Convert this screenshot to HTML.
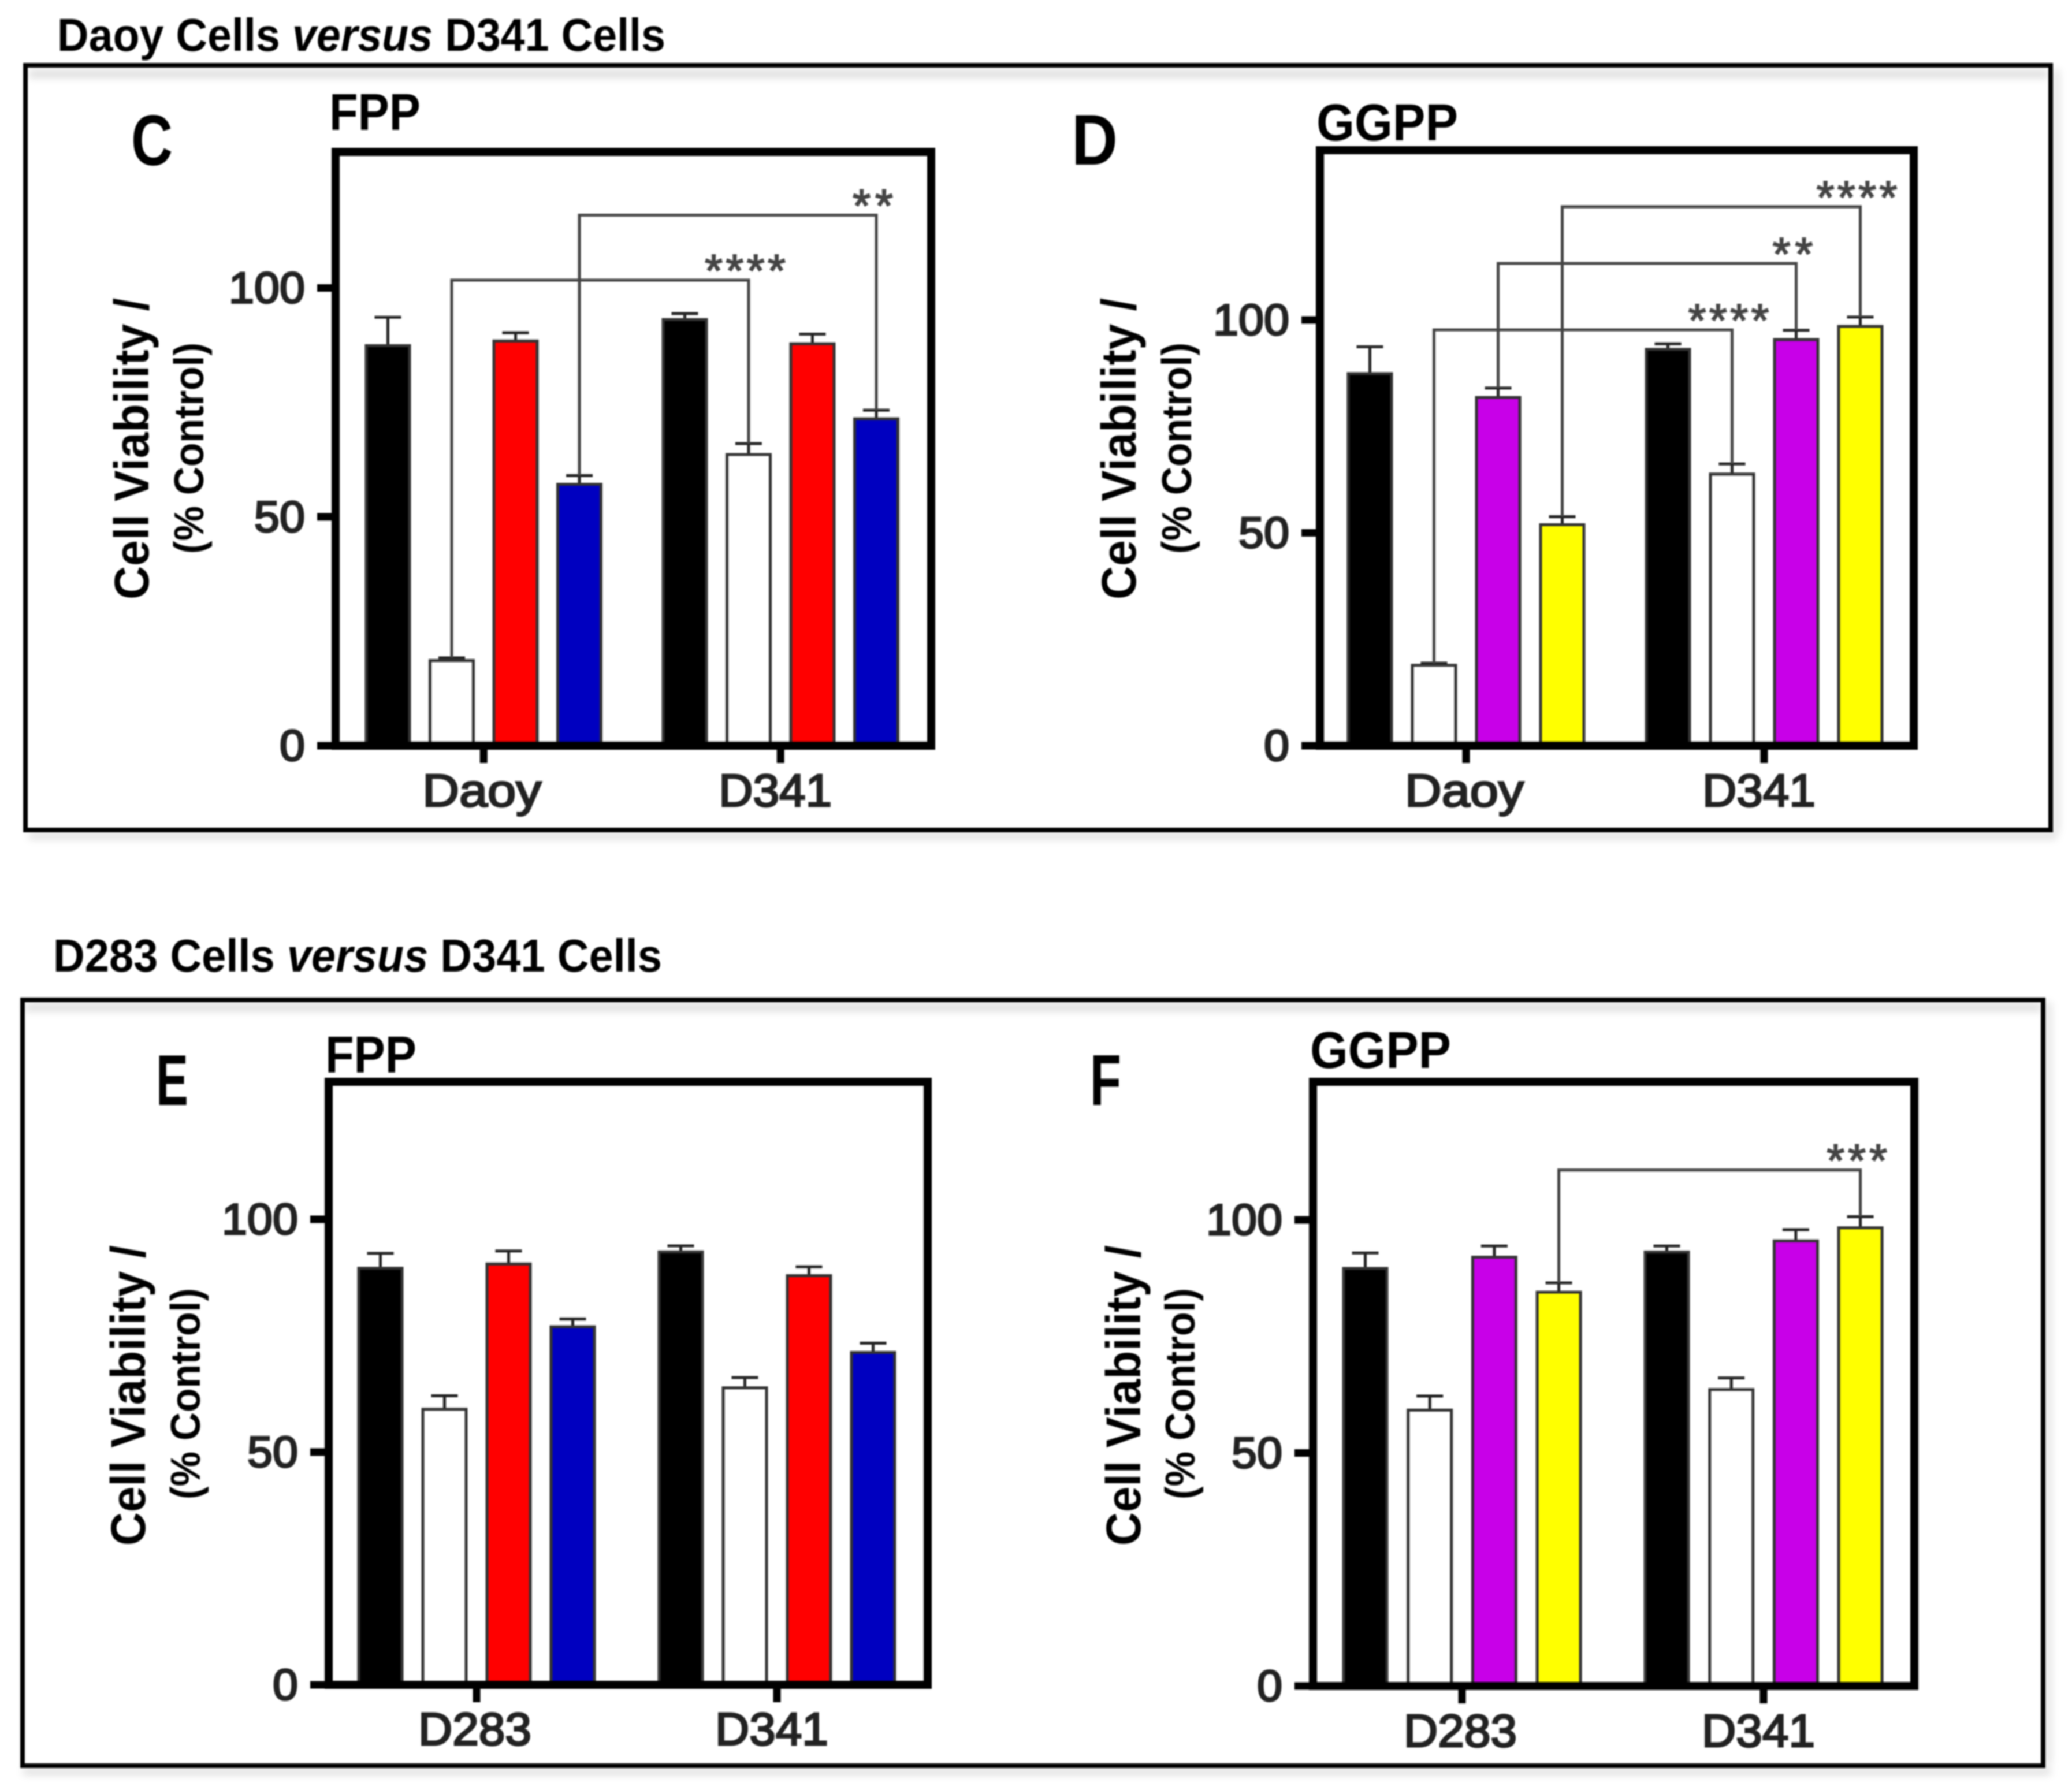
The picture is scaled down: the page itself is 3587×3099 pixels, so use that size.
<!DOCTYPE html>
<html lang="en">
<head>
<meta charset="utf-8">
<title>Cell viability: Daoy and D283 versus D341</title>
<style>
html,body{margin:0;padding:0;background:#fff;width:3587px;height:3099px;overflow:hidden}
svg{display:block;filter:blur(1.2px)}
text{font-family:"Liberation Sans",sans-serif}
.t{font-weight:bold;fill:#000}
</style>
</head>
<body>
<svg id="figure" xmlns="http://www.w3.org/2000/svg" width="3587" height="3099" viewBox="0 0 3587 3099">
  <defs><filter id="soft" x="-5%" y="-5%" width="110%" height="110%"><feGaussianBlur stdDeviation="7"/></filter></defs>
  <rect width="3587" height="3099" fill="#fff"/>

  <g filter="url(#soft)" fill="#d8d8d8">
    <rect x="50" y="122" width="3495" height="12"/>
    <rect x="50" y="1442" width="3510" height="10"/>
    <rect x="3556" y="120" width="8" height="1320"/>
    <rect x="44" y="1738" width="3490" height="12"/>
    <rect x="40" y="3062" width="3510" height="10"/>
    <rect x="3542" y="1735" width="8" height="1320"/>
  </g>
  <rect x="44" y="113" width="3506" height="1324" fill="none" stroke="#000" stroke-width="8"/>
  <rect x="39" y="1731" width="3498" height="1326" fill="none" stroke="#000" stroke-width="8"/>

  <text class="t" x="99" y="88" font-size="80" textLength="1053" lengthAdjust="spacingAndGlyphs">Daoy Cells <tspan font-style="italic">versus</tspan> D341 Cells</text>
  <text class="t" x="92" y="1682" font-size="80" textLength="1054" lengthAdjust="spacingAndGlyphs">D283 Cells <tspan font-style="italic">versus</tspan> D341 Cells</text>

  <text class="t" x="227" y="286" font-size="124" textLength="72" lengthAdjust="spacingAndGlyphs">C</text>
  <text class="t" x="1855" y="285" font-size="124" textLength="80" lengthAdjust="spacingAndGlyphs">D</text>
  <text class="t" x="270" y="1913" font-size="124" textLength="56" lengthAdjust="spacingAndGlyphs">E</text>
  <text class="t" x="1887" y="1913" font-size="124" textLength="54" lengthAdjust="spacingAndGlyphs">F</text>

  <text class="t" x="570" y="225" font-size="90" textLength="158" lengthAdjust="spacingAndGlyphs">FPP</text>
  <text class="t" x="2279" y="243" font-size="90" textLength="245" lengthAdjust="spacingAndGlyphs">GGPP</text>
  <text class="t" x="563" y="1857" font-size="90" textLength="158" lengthAdjust="spacingAndGlyphs">FPP</text>
  <text class="t" x="2268" y="1849" font-size="90" textLength="244" lengthAdjust="spacingAndGlyphs">GGPP</text>

  <text class="t" transform="translate(257 777) rotate(-90)" text-anchor="middle" font-size="84" textLength="522" lengthAdjust="spacingAndGlyphs">Cell Viability /</text>
  <text class="t" transform="translate(352 776) rotate(-90)" text-anchor="middle" font-size="72" textLength="366" lengthAdjust="spacingAndGlyphs">(% Control)</text>
  <text class="t" transform="translate(1966 777) rotate(-90)" text-anchor="middle" font-size="84" textLength="522" lengthAdjust="spacingAndGlyphs">Cell Viability /</text>
  <text class="t" transform="translate(2062 776) rotate(-90)" text-anchor="middle" font-size="72" textLength="366" lengthAdjust="spacingAndGlyphs">(% Control)</text>
  <text class="t" transform="translate(251 2416) rotate(-90)" text-anchor="middle" font-size="84" textLength="520" lengthAdjust="spacingAndGlyphs">Cell Viability /</text>
  <text class="t" transform="translate(346 2413) rotate(-90)" text-anchor="middle" font-size="72" textLength="366" lengthAdjust="spacingAndGlyphs">(% Control)</text>
  <text class="t" transform="translate(1974 2416) rotate(-90)" text-anchor="middle" font-size="84" textLength="520" lengthAdjust="spacingAndGlyphs">Cell Viability /</text>
  <text class="t" transform="translate(2068 2413) rotate(-90)" text-anchor="middle" font-size="72" textLength="366" lengthAdjust="spacingAndGlyphs">(% Control)</text>
</svg>

<script>
// Shared axis tick labels
var yTickValues = [0, 50, 100];

// Panel C: FPP, Daoy vs D341
var panelCCategories = ["Daoy", "D341"];
var panelCValues = [87.4, 18.6, 88.4, 57.1, 93.1, 63.6, 87.8, 71.4];
var panelCErrorTops = [93.6, 19.2, 90.2, 59.0, 94.4, 66.0, 89.9, 73.3];
var panelCColors = ["#000000", "#ffffff", "#ff0000", "#0000c0"];
var panelCBracketFrom = [1, 3];
var panelCBracketTo = [5, 7];
var panelCBracketLevels = [101.7, 115.9];
var panelCBracketLabels = ["****", "**"];

// Panel D: GGPP, Daoy vs D341
var panelDCategories = ["Daoy", "D341"];
var panelDValues = [87.4, 18.9, 81.8, 51.9, 93.1, 63.8, 95.4, 98.5];
var panelDErrorTops = [93.7, 19.4, 84, 53.8, 94.4, 66.2, 97.6, 100.7];
var panelDColors = ["#000000", "#ffffff", "#c800e8", "#ffff00"];
var panelDBracketFrom = [1, 2, 3];
var panelDBracketTo = [5, 6, 7];
var panelDBracketLevels = [97.7, 113.3, 126.6];
var panelDBracketLabels = ["****", "**", "****"];

// Panel E: FPP, D283 vs D341
var panelECategories = ["D283", "D341"];
var panelEValues = [89.5, 59.2, 90.4, 76.9, 93.0, 63.8, 87.9, 71.4];
var panelEErrorTops = [92.7, 62.1, 93.2, 78.6, 94.3, 66.0, 89.8, 73.4];
var panelEColors = ["#000000", "#ffffff", "#ff0000", "#0000c0"];
var panelEBracketFrom = [];
var panelEBracketTo = [];
var panelEBracketLevels = [];
var panelEBracketLabels = [];

// Panel F: GGPP, D283 vs D341
var panelFCategories = ["D283", "D341"];
var panelFValues = [89.6, 59.2, 92, 84.5, 93.1, 63.6, 95.5, 98.3];
var panelFErrorTops = [92.9, 62.2, 94.4, 86.5, 94.4, 66.1, 97.9, 100.7];
var panelFColors = ["#000000", "#ffffff", "#c800e8", "#ffff00"];
var panelFBracketFrom = [3];
var panelFBracketTo = [7];
var panelFBracketLevels = [110.7];
var panelFBracketLabels = ["***"];

var SVG_NS = "http://www.w3.org/2000/svg";
var root = document.getElementById("figure");

function make(tag, attrs, parent) {
  var el = document.createElementNS(SVG_NS, tag);
  for (var k in attrs) { el.setAttribute(k, attrs[k]); }
  parent.appendChild(el);
  return el;
}

function drawPanel(id, layout, categories, values, errorTops, colors, bFrom, bTo, bLevels, bLabels) {
  var g = make("g", {}, root);
  
  

  function yScale(v) { return layout.y0 - (layout.y0 - layout.y100) * v / 100; }
  function barLeft(i) {
    var group = Math.floor(i / 4);
    return layout.barStart + group * layout.groupGap + (i % 4) * layout.barStep;
  }
  function barCenter(i) { return barLeft(i) + layout.barWidth / 2; }

  // bars and error bars
  values.forEach(function (v, i) {
    var top = yScale(v), left = barLeft(i), mid = barCenter(i), errTop = yScale(errorTops[i]);
    var errLine = make("line", {x1: mid, x2: mid, y1: top, y2: errTop, stroke: "#222", "stroke-width": 5}, g);
    
    
    var cap = make("line", {x1: mid - 23, x2: mid + 23, y1: errTop, y2: errTop, stroke: "#222", "stroke-width": 5}, g);
    
    
    var bar = make("rect", {x: left, y: top, width: layout.barWidth, height: layout.y0 - top,
      fill: colors[i % 4], stroke: "#333", "stroke-width": 5}, g);
    
    
  });

  // significance brackets
  bFrom.forEach(function (a, n) {
    var b = bTo[n], yy = yScale(bLevels[n]);
    var path = make("path", {
      d: "M" + barCenter(a) + " " + yScale(errorTops[a]) + "V" + yy + "H" + barCenter(b) + "V" + yScale(errorTops[b]),
      fill: "none", stroke: "#444", "stroke-width": 5
    }, g);
    
    
    var label = make("text", {
      x: barCenter(b) - 6, y: yy + 11, "text-anchor": "middle", "font-size": 80, fill: "#444",
      stroke: "#444", "stroke-width": 2,
      textLength: 35 * bLabels[n].length, lengthAdjust: "spacing"
    }, g);
    label.textContent = bLabels[n];
    
    
  });

  // plot frame
  var frame = make("rect", {x: layout.left, y: layout.top, width: layout.right - layout.left,
    height: layout.y0 - layout.top, fill: "none", stroke: "#000", "stroke-width": 14}, g);
  
  

  // y ticks
  yTickValues.forEach(function (t) {
    var yy = yScale(t);
    var tick = make("line", {x1: layout.left - 32, x2: layout.left, y1: yy, y2: yy, stroke: "#000", "stroke-width": 13}, g);
    
    
    var s = String(t);
    var lab = make("text", {x: layout.left - 53, y: yy + 26, "text-anchor": "end", "font-size": 76, fill: "#222",
      stroke: "#222", "stroke-width": 3, textLength: 44 * s.length, lengthAdjust: "spacingAndGlyphs"}, g);
    lab.textContent = s;
    
    
  });

  // x ticks and category labels
  categories.forEach(function (c, n) {
    var xx = (barLeft(n * 4) + barLeft(n * 4 + 3) + layout.barWidth) / 2;
    var tick = make("line", {x1: xx, x2: xx, y1: layout.y0, y2: layout.y0 + 30, stroke: "#000", "stroke-width": 13}, g);
    
    
    var lab = make("text", {x: xx - (n === 0 ? 3 : 9), y: layout.y0 + layout.catDrop, "text-anchor": "middle", "font-size": 80,
      fill: "#222", stroke: "#222", "stroke-width": 3, textLength: c === "Daoy" ? 206 : 196, lengthAdjust: "spacingAndGlyphs"}, g);
    lab.textContent = c;
    
    
  });
}

drawPanel("c", {left: 581, right: 1612, top: 263, y0: 1291, y100: 498.5, barStart: 634, barStep: 110.5, barWidth: 75, groupGap: 514, catDrop: 105},
  panelCCategories, panelCValues, panelCErrorTops, panelCColors, panelCBracketFrom, panelCBracketTo, panelCBracketLevels, panelCBracketLabels);
drawPanel("d", {left: 2285, right: 3313, top: 260, y0: 1291, y100: 554, barStart: 2334, barStep: 111, barWidth: 75, groupGap: 516, catDrop: 105},
  panelDCategories, panelDValues, panelDErrorTops, panelDColors, panelDBracketFrom, panelDBracketTo, panelDBracketLevels, panelDBracketLabels);
drawPanel("e", {left: 569, right: 1606, top: 1873, y0: 2917, y100: 2111, barStart: 621, barStep: 111, barWidth: 75, groupGap: 520, catDrop: 104},
  panelECategories, panelEValues, panelEErrorTops, panelEColors, panelEBracketFrom, panelEBracketTo, panelEBracketLevels, panelEBracketLabels);
drawPanel("f", {left: 2273, right: 3314, top: 1873, y0: 2919, y100: 2112, barStart: 2326, barStep: 111.7, barWidth: 75, groupGap: 522, catDrop: 105},
  panelFCategories, panelFValues, panelFErrorTops, panelFColors, panelFBracketFrom, panelFBracketTo, panelFBracketLevels, panelFBracketLabels);
</script>
</body>
</html>
